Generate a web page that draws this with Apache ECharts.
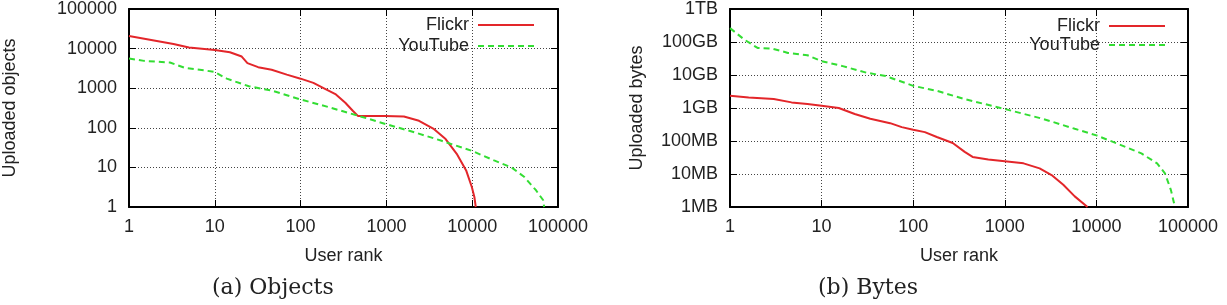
<!DOCTYPE html>
<html>
<head>
<meta charset="utf-8">
<script src="https://cdn.jsdelivr.net/npm/echarts@6/dist/echarts.min.js"></script>
<style>
  html, body { margin: 0; padding: 0; background: #fff; }
  #chart { width: 1227px; height: 305px; }
</style>
</head>
<body>
<div id="chart"></div>
<script>
// (a) objects uploaded per user rank
const objFlickrRank = [1, 3.3, 5, 10, 15, 20.6, 24, 32, 46, 69, 100, 141, 190, 258, 332, 408, 465, 960, 1600, 2400, 3600, 4900, 6600, 8500, 9900, 10600, 11000]
const objFlickrCount = [20700, 13100, 10600, 9270, 8100, 6300, 4300, 3400, 2930, 2200, 1740, 1360, 980, 695, 430, 266, 200, 200, 193, 150, 92, 52, 22, 8.4, 3.2, 1.8, 1]
const objYoutubeRank = [1, 1.5, 3, 4.5, 7.5, 10, 13.8, 25, 46, 100, 210, 475, 1000, 2170, 4400, 10000, 18000, 28700, 40600, 55000, 67000, 69000]
const objYoutubeCount = [5600, 4900, 4460, 3240, 2830, 2560, 1740, 1120, 870, 520, 335, 200, 123, 76, 47, 26, 15, 10, 5.7, 2.7, 1.5, 1]

// (b) bytes uploaded per user rank, in MB
const bytesFlickrRank = [1, 1.6, 3, 4.7, 7, 10, 15.4, 23, 34, 56, 75, 100, 134, 181, 270, 365, 445, 660, 1000, 1600, 2400, 3240, 4350, 5800, 8000]
const bytesFlickrMB = [2340, 2090, 1860, 1480, 1320, 1170, 1000, 660, 470, 347, 263, 219, 186, 132, 87, 47, 33, 27.5, 24.5, 21, 14.8, 9.3, 4.7, 2.1, 1]
const bytesYoutubeRank = [1, 1.44, 2, 2.9, 4.3, 7, 10, 17, 31, 50, 100, 182, 365, 1000, 2600, 5800, 10000, 17000, 31000, 46000, 56000, 65000, 72000]
const bytesYoutubeMB = [263000, 117000, 66000, 63000, 46700, 39800, 26300, 18600, 11700, 9300, 4700, 3300, 1860, 930, 470, 234, 148, 83, 42, 21, 10.5, 3.3, 1]

const byteLabels = { 1: '1MB', 10: '10MB', 100: '100MB', 1000: '1GB', 10000: '10GB', 100000: '100GB', 1000000: '1TB' }

const font = 'Liberation Sans, Arial, sans-serif'
const flickrColor = '#e3262a'
const youtubeColor = '#33dd33'

function pairs(xs, ys) {
  return xs.map((x, i) => [x, ys[i]])
}

const plainNumber = (v) => String(Math.round(v))

function mainX(gridIndex) {
  return {
    type: 'log', logBase: 10, gridIndex: gridIndex, min: 1, max: 100000,
    name: 'User rank', nameLocation: 'middle', nameGap: 40,
    nameTextStyle: { fontFamily: font, fontSize: 18, color: '#222' },
    axisLine: { lineStyle: { color: '#000', width: 2 } },
    axisTick: { inside: true, length: 7, lineStyle: { color: '#000' } },
    axisLabel: { fontFamily: font, fontSize: 18, color: '#222', margin: 11, formatter: plainNumber },
    splitLine: { show: true, lineStyle: { color: '#444', type: [1, 2], width: 1 } },
  }
}

function mirrorX(gridIndex) {
  return {
    type: 'log', logBase: 10, gridIndex: gridIndex, min: 1, max: 100000, position: 'top',
    axisLine: { lineStyle: { color: '#000', width: 2 } },
    axisTick: { inside: true, length: 7, lineStyle: { color: '#000' } },
    axisLabel: { show: false },
    splitLine: { show: false },
  }
}

function mainY(gridIndex, max, name, gap, formatter) {
  return {
    type: 'log', logBase: 10, gridIndex: gridIndex, min: 1, max: max,
    name: name, nameLocation: 'middle', nameGap: gap,
    nameTextStyle: { fontFamily: font, fontSize: 18, color: '#222' },
    axisLine: { lineStyle: { color: '#000', width: 2 } },
    axisTick: { inside: true, length: 7, lineStyle: { color: '#000' } },
    axisLabel: { fontFamily: font, fontSize: 18, color: '#222', margin: 12, formatter: formatter },
    splitLine: { show: true, lineStyle: { color: '#444', type: [1, 2], width: 1 } },
  }
}

function mirrorY(gridIndex, max) {
  return {
    type: 'log', logBase: 10, gridIndex: gridIndex, min: 1, max: max, position: 'right',
    axisLine: { lineStyle: { color: '#000', width: 2 } },
    axisTick: { inside: true, length: 7, lineStyle: { color: '#000' } },
    axisLabel: { show: false },
    splitLine: { show: false },
  }
}

function lineSeries(name, axis, data, color, dashed) {
  return {
    name: name, type: 'line', xAxisIndex: axis, yAxisIndex: axis,
    data: data, symbol: 'none', animation: false,
    lineStyle: { color: color, width: 2, type: dashed ? [6, 4] : 'solid' },
    itemStyle: { color: color },
  }
}

function legendItem(name, right, top) {
  return {
    data: [name], right: right, top: top, align: 'right', padding: 0,
    itemWidth: 56, itemHeight: 14, selectedMode: false,
    itemStyle: { opacity: 0 },
    textStyle: { fontFamily: font, fontSize: 18, color: '#222', padding: [0, 4, 0, 0] },
  }
}

const captionStyle = { fontFamily: 'DejaVu Serif, serif', fontSize: 22, fontWeight: 'normal', color: '#222' }

const chart = echarts.init(document.getElementById('chart'))
chart.setOption({
  animation: false,
  backgroundColor: '#fff',
  grid: [
    { left: 123, top: 7, width: 435, height: 200 },
    { left: 730, top: 7, width: 458, height: 200 },
  ],
  title: [
    { text: '(a) Objects', left: 212, top: 277, padding: 0, textStyle: captionStyle },
    { text: '(b) Bytes', left: 818, top: 277, padding: 0, textStyle: captionStyle },
  ],
  legend: [
    legendItem('Flickr', 692, 16),
    legendItem('YouTube', 692, 37),
    legendItem('Flickr', 61, 17),
    legendItem('YouTube', 61, 36),
  ],
  xAxis: [mainX(0), mirrorX(0), mainX(1), mirrorX(1)],
  yAxis: [
    mainY(0, 100000, 'Uploaded objects', 110, plainNumber),
    mirrorY(0, 100000),
    mainY(1, 1000000, 'Uploaded bytes', 84, (v) => byteLabels[Math.round(v)] || ''),
    mirrorY(1, 1000000),
  ],
  series: [
    lineSeries('Flickr', 0, pairs(objFlickrRank, objFlickrCount), flickrColor, false),
    lineSeries('YouTube', 0, pairs(objYoutubeRank, objYoutubeCount), youtubeColor, true),
    lineSeries('Flickr', 2, pairs(bytesFlickrRank, bytesFlickrMB), flickrColor, false),
    lineSeries('YouTube', 2, pairs(bytesYoutubeRank, bytesYoutubeMB), youtubeColor, true),
  ],
})
</script>
</body>
</html>
